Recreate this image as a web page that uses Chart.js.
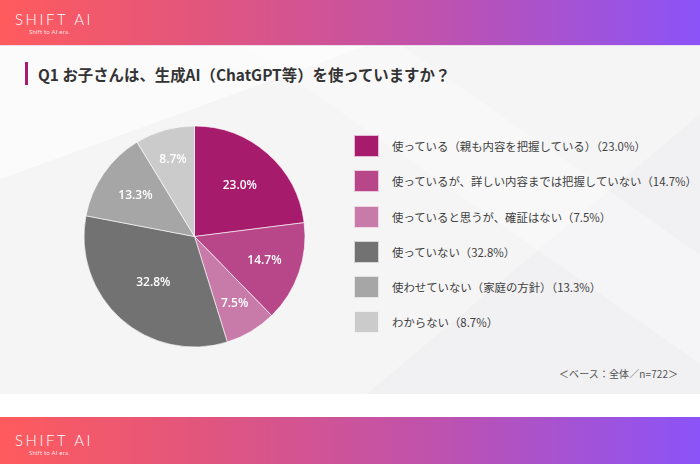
<!DOCTYPE html>
<html lang="ja">
<head>
<meta charset="utf-8">
<title>Q1 生成AIの利用状況</title>
<script src="https://cdn.jsdelivr.net/npm/chart.js@4.4.1/dist/chart.umd.min.js"></script>
<style>
  body { margin: 0; width: 700px; height: 464px; overflow: hidden; font-family: 'Noto Sans CJK JP', 'Noto Sans', sans-serif; }
  #page { position: relative; width: 700px; height: 464px; background: #ffffff; }
  .band { position: absolute; left: 0; width: 700px; height: 46px;
    background: linear-gradient(90deg, #ff5b5d 0%, #e0557f 30%, #bf52ad 62%, #8b53f8 100%); }
  #topBand { top: 0; border-bottom: 1px solid #eddcec; height: 45px; }
  #bottomBand { top: 417px; height: 47px; }
  .logo { position: absolute; left: 15px; color: #ffffff; font-family: Lato, 'Open Sans', sans-serif; font-weight: 300; font-size: 15px; letter-spacing: 2.6px; line-height: 15px; }
  .logoSub { position: absolute; left: 29px; color: rgba(255,255,255,0.85); font-family: Lato, sans-serif; font-size: 6px; line-height: 6px; letter-spacing: 0.2px; }
  #main { position: absolute; left: 0; top: 46px; width: 700px; height: 348px;
    background:
      linear-gradient(160deg, rgba(255,255,255,0.6) 0%, rgba(255,255,255,0.6) 22%, rgba(255,255,255,0) 22.2%),
      linear-gradient(35deg, rgba(255,255,255,0) 62%, rgba(255,255,255,0.3) 62.2%, rgba(255,255,255,0.3) 75%, rgba(255,255,255,0) 75.2%),
      linear-gradient(140deg, rgba(236,236,238,0) 70%, rgba(238,238,240,0.6) 70.2%),
      #f5f5f6; }
  #titleBar { position: absolute; left: 25px; top: 62px; width: 3px; height: 23px; background: #a81b6d; }
  #title { position: absolute; left: 38px; top: 63px; font-size: 15.4px; font-weight: bold; color: #333333; line-height: 22px; white-space: nowrap; }
  #pieCanvas { position: absolute; left: 80px; top: 122px; }
  #legend { position: absolute; left: 354px; top: 135px; margin: 0; padding: 0; list-style: none; }
  #legend li { display: flex; align-items: center; height: 22px; margin-bottom: 13.3px; font-size: 11.4px; color: #404040; white-space: nowrap; }
  #legend .box { width: 25px; height: 22px; margin-right: 13px; box-sizing: border-box; border: 1px solid rgba(255,255,255,0.7); }
  #note { position: absolute; left: 559px; top: 366px; font-size: 10px; color: #555555; letter-spacing: 0.1px; white-space: nowrap; }
</style>
</head>
<body>
<div id="page">
  <div id="main"></div>
  <div class="band" id="topBand">
    <div class="logo" style="top: 12px;">SHIFT AI</div>
    <div class="logoSub" style="top: 29px;">Shift to AI era.</div>
  </div>
  <div id="titleBar"></div>
  <div id="title">Q1 お子さんは、生成AI（ChatGPT等）を使っていますか？</div>
  <canvas id="pieCanvas" width="229" height="229"></canvas>
  <ul id="legend"></ul>
  <div id="note">＜ベース：全体／n=722＞</div>
  <div class="band" id="bottomBand">
    <div class="logo" style="top: 16px;">SHIFT AI</div>
    <div class="logoSub" style="top: 33px;">Shift to AI era.</div>
  </div>
</div>

<script>
'use strict';

//Answer choices, in the order they go round the pie (clockwise from the top)
let answerLabels = ['使っている（親も内容を把握している）', '使っているが、詳しい内容までは把握していない', '使っていると思うが、確証はない', '使っていない', '使わせていない（家庭の方針）', 'わからない'];
let answerPercents = [23.0, 14.7, 7.5, 32.8, 13.3, 8.7];
let sliceColors = ['#a71b6c', '#b8478a', '#c87ba9', '#727272', '#a6a6a6', '#cbcbcb'];
//How far out (share of the radius) each percent label sits, the original places them by hand
let labelRadius = [0.62, 0.67, 0.71, 0.56, 0.65, 0.72];

const pieCanvas = document.getElementById('pieCanvas');
const legendList = document.getElementById('legend');

//Writes "23.0%" etc. on top of each slice
const percentLabels = {
  id: 'percentLabels',
  afterDatasetsDraw(chart) {
    const ctx = chart.ctx;
    const arcs = chart.getDatasetMeta(0).data;
    ctx.save();
    ctx.fillStyle = '#ffffff';
    ctx.font = '600 12px "Open Sans", "Noto Sans", sans-serif';
    ctx.textAlign = 'center';
    ctx.textBaseline = 'middle';
    for (let i = 0; i < arcs.length; i++) {
      let arc = arcs[i];
      let mid = (arc.startAngle + arc.endAngle) / 2;
      let r = arc.outerRadius * labelRadius[i];
      ctx.fillText(answerPercents[i].toFixed(1) + '%', arc.x + Math.cos(mid) * r, arc.y + Math.sin(mid) * r);
    }
    ctx.restore();
  }
};

function renderPie() {
  const data = {
    labels: answerLabels,
    datasets: [{
      data: answerPercents,
      backgroundColor: sliceColors,
      borderColor: 'rgba(255,255,255,0.6)',
      borderWidth: 1
    }]
  };
  const config = {
    type: 'pie',
    data: data,
    options: {
      responsive: false,
      animation: false,
      layout: {
        padding: 3.5
      },
      plugins: {
        legend: { display: false },
        tooltip: { enabled: false }
      }
    },
    plugins: [percentLabels]
  };
  return new Chart(pieCanvas, config);
}

//Legend on the right is built from the same arrays as the pie
function renderLegend() {
  for (let i = 0; i < answerLabels.length; i++) {
    let item = document.createElement('li');
    let box = document.createElement('span');
    box.className = 'box';
    box.style.backgroundColor = sliceColors[i];
    item.appendChild(box);
    let text = document.createElement('span');
    text.textContent = answerLabels[i] + '（' + answerPercents[i].toFixed(1) + '%）';
    item.appendChild(text);
    legendList.appendChild(item);
  }
}

renderPie();
renderLegend();
</script>
</body>
</html>
